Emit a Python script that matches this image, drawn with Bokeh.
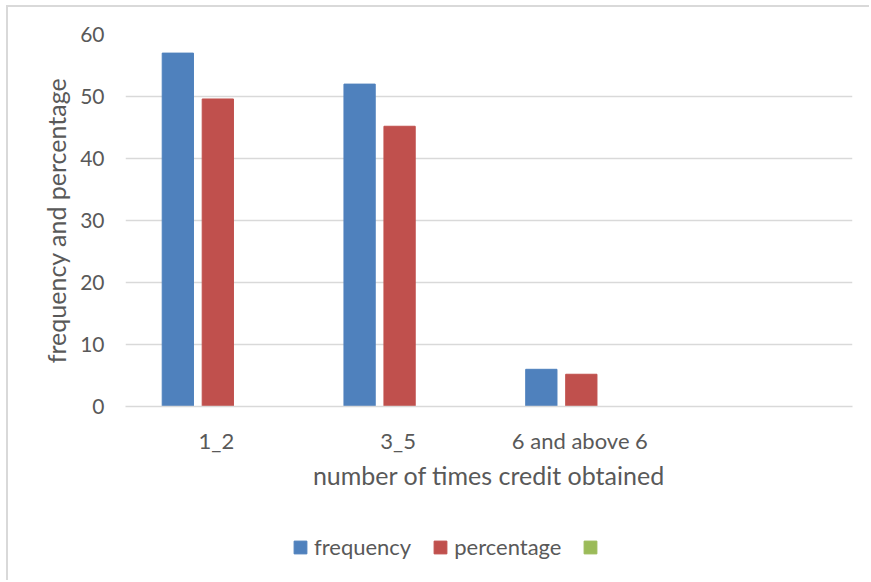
from bokeh.plotting import figure
from bokeh.layouts import column
from bokeh.models import (ColumnDataSource, FixedTicker, Legend, LegendItem,
                          Range1d)
from bokeh.embed import file_html
from bokeh.resources import INLINE

# ---- data ----
categories = ["1_2", "3_5", "6 and above 6", ""]
frequency = [57, 52, 6, float("nan")]
percentage = [49.6, 45.2, 5.2, float("nan")]
third_series = [float("nan")] * 4
series_names = ["frequency", "percentage", " "]
y_ticks = [0, 10, 20, 30, 40, 50, 60]

FONT = "Lato"
TXT = "#595959"
GRID = "#d9d9d9"
BLUE = "#4F81BD"
RED = "#C0504D"
GREEN = "#9BBB59"
COLORS = [BLUE, RED, GREEN]

centers = [i + 0.5 for i in range(len(categories))]
bar_w = 0.172
offsets = [-0.212, 0.008, 0.228]

src = ColumnDataSource(dict(
    xf=[c + offsets[0] for c in centers],
    xp=[c + offsets[1] for c in centers],
    xg=[c + offsets[2] for c in centers],
    frequency=frequency, percentage=percentage, third=third_series,
))

p = figure(width=863, height=513, output_backend="svg", toolbar_location=None,
           tools="", x_range=Range1d(0, len(categories)),
           y_range=Range1d(0, 60),
           min_border_left=117, min_border_right=19, min_border_top=27,
           min_border_bottom=114)
p.toolbar.logo = None
p.outline_line_color = None
p.background_fill_color = "white"
p.border_fill_color = "white"

p.vbar(x="xf", top="frequency", width=bar_w, source=src, color=BLUE)
p.vbar(x="xp", top="percentage", width=bar_w, source=src, color=RED)
p.vbar(x="xg", top="third", width=bar_w, source=src, color=GREEN)

# axes
p.xaxis.ticker = FixedTicker(ticks=centers)
p.xaxis.major_label_overrides = {c: lab for c, lab in zip(centers, categories)}
p.xaxis.axis_line_color = GRID
p.xaxis.axis_line_width = 1.5
p.xaxis.major_tick_line_color = None
p.xaxis.minor_tick_line_color = None
p.xaxis.major_label_standoff = 14
p.xaxis.major_label_text_font = FONT
p.xaxis.major_label_text_font_size = "22px"
p.xaxis.major_label_text_color = TXT
p.xaxis.axis_label = "number of times credit obtained"
p.xaxis.axis_label_text_font = FONT
p.xaxis.axis_label_text_font_size = "25px"
p.xaxis.axis_label_text_font_style = "normal"
p.xaxis.axis_label_text_color = TXT
p.xaxis.axis_label_standoff = 3

p.yaxis.ticker = FixedTicker(ticks=y_ticks)
p.yaxis.axis_line_color = None
p.yaxis.major_tick_line_color = None
p.yaxis.minor_tick_line_color = None
p.yaxis.major_label_standoff = 15
p.yaxis.major_label_text_font = FONT
p.yaxis.major_label_text_font_size = "21px"
p.yaxis.major_label_text_color = TXT
p.yaxis.axis_label = "frequency and percentage"
p.yaxis.axis_label_text_font = FONT
p.yaxis.axis_label_text_font_size = "25px"
p.yaxis.axis_label_text_font_style = "normal"
p.yaxis.axis_label_text_color = TXT
p.yaxis.axis_label_standoff = 6

p.xgrid.grid_line_color = None
p.ygrid.grid_line_color = GRID
p.ygrid.grid_line_width = 1.5

# legend strip (its own frame so the legend is not clipped); the swatch
# renderers hold one bar each, placed outside the strip's visible x range
pl = figure(width=863, height=62, output_backend="svg", toolbar_location=None,
            tools="", x_axis_type=None, y_axis_type=None, min_border=0,
            x_range=Range1d(0, 1), y_range=Range1d(0, 1))
pl.toolbar.logo = None
pl.outline_line_color = None
pl.grid.visible = False
items = []
for name, col in zip(series_names, COLORS):
    swatch = ColumnDataSource(dict(x=[5.0], top=[0.0]))
    rr = pl.vbar(x="x", top="top", width=0.1, source=swatch,
                 fill_color=col, line_color=col)
    items.append(LegendItem(label=name, renderers=[rr]))
legend = Legend(items=items, orientation="horizontal", location=(167, 22),
                glyph_width=16, glyph_height=16, label_standoff=6, spacing=21,
                padding=0, margin=0, label_height=16,
                label_text_font=FONT, label_text_font_size="22px",
                label_text_color=TXT, border_line_color=None,
                background_fill_alpha=0)
pl.add_layout(legend, "center")

layout = column(p, pl, spacing=0, margin=(7, 0, 0, 8),
                styles={"box-shadow": "-2px -2px 0px 0px #d9d9d9"})

open("out.html", "w").write(file_html(layout, INLINE))
